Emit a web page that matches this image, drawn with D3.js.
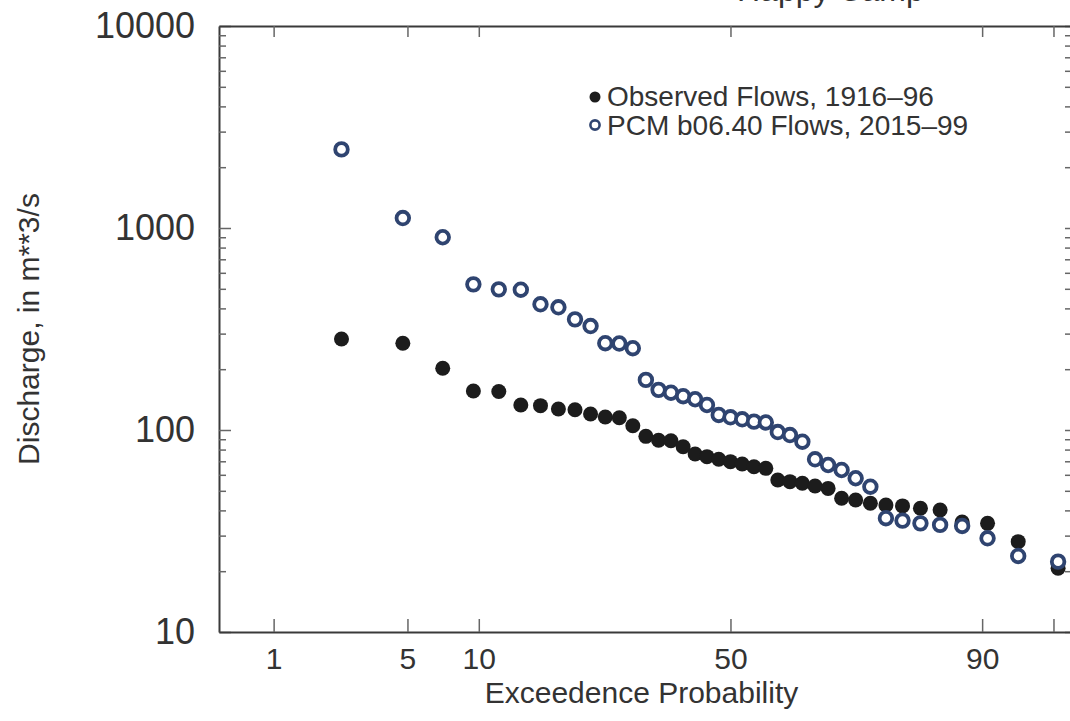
<!DOCTYPE html>
<html>
<head>
<meta charset="utf-8">
<script src="https://cdn.jsdelivr.net/npm/d3@7"></script>
<style>
  html, body { margin: 0; padding: 0; background: #fff; overflow: hidden; }
  svg { display: block; font-family: "Liberation Sans", Arial, Helvetica, sans-serif; }
</style>
</head>
<body>
<svg id="chart" width="1070" height="721"></svg>
<script>
// ranked annual peaks, rank 1 = largest; record has 41 ranks, the last one falls past the right edge
const nRecord = 41;
const observedFlows = [282, 269, 202, 156, 155, 133, 132, 127, 126, 120, 116, 115, 105, 93, 89, 88.5, 82.6, 76.1, 73.8, 71.6,
  69.7, 67.9, 65.8, 64.6, 56.6, 55.5, 54.5, 52.8, 51.4, 45.9, 45.0, 43.4, 42.5, 42.1, 41.0, 40.2, 35.0, 34.5, 28.0, 20.7];
const pcmFlows = [2450, 1120, 900, 526, 497, 495, 419, 405, 353, 327, 269, 268, 254, 177, 158, 153, 147, 142, 133, 118.7,
  115.6, 113, 110, 109, 97.7, 94.4, 87.5, 71.6, 67.1, 63.4, 57.7, 52.4, 36.6, 35.6, 34.5, 33.9, 33.5, 29.1, 23.8, 22.3];

const probTicks = [1, 5, 10, 50, 90, 95];
const probTickLabels = ['1', '5', '10', '50', '90', ''];
const probExtent = [0.46, 95.9];
const flowMajorTicks = [10, 100, 1000, 10000];
const legendLabels = ['Observed Flows, 1916\u201396', 'PCM b06.40 Flows, 2015\u201399'];

// inverse normal cdf (Acklam)
function probit(p) {
  const a = [-3.969683028665376e+01, 2.209460984245205e+02, -2.759285104469687e+02, 1.383577518672690e+02, -3.066479806614716e+01, 2.506628277459239e+00];
  const b = [-5.447609879822406e+01, 1.615858368580409e+02, -1.556989798598866e+02, 6.680131188771972e+01, -1.328068155288572e+01];
  const c = [-7.784894002430293e-03, -3.223964580411365e-01, -2.400758277161838e+00, -2.549732539343734e+00, 4.374664141464968e+00, 2.938163982698783e+00];
  const d = [7.784695709041462e-03, 3.224671290700398e-01, 2.445134137142996e+00, 3.754408661907416e+00];
  const pl = 0.02425;
  if (p < pl) {
    const q = Math.sqrt(-2 * Math.log(p));
    return (((((c[0]*q+c[1])*q+c[2])*q+c[3])*q+c[4])*q+c[5]) / ((((d[0]*q+d[1])*q+d[2])*q+d[3])*q+1);
  }
  if (p > 1 - pl) {
    const q = Math.sqrt(-2 * Math.log(1 - p));
    return -(((((c[0]*q+c[1])*q+c[2])*q+c[3])*q+c[4])*q+c[5]) / ((((d[0]*q+d[1])*q+d[2])*q+d[3])*q+1);
  }
  const q = p - 0.5, r = q * q;
  return (((((a[0]*r+a[1])*r+a[2])*r+a[3])*r+a[4])*r+a[5])*q / (((((b[0]*r+b[1])*r+b[2])*r+b[3])*r+b[4])*r+1);
}

const margin = { left: 219, right: 1072, top: 26, bottom: 632 };
const svg = d3.select('#chart');

const x = d3.scaleLinear()
  .domain(probExtent.map(p => probit(p / 100)))
  .range([margin.left, margin.right]);
const y = d3.scaleLog()
  .domain([10, 10000])
  .range([margin.bottom, margin.top]);

const px = i => x(probit((i + 1) / (nRecord + 1)));

// title, cropped by the top edge in the source figure
svg.append('text')
  .attr('x', 737).attr('y', 1)
  .attr('font-size', 32).attr('fill', '#333')
  .text('Happy Camp');

// y ticks: majors + 2..9 minors
const minorTicks = [];
[10, 100, 1000].forEach(dec => { for (let m = 2; m <= 9; m++) minorTicks.push(dec * m); });
const allYTicks = flowMajorTicks.concat(minorTicks);

const zTicks = probTicks.map(p => probit(p / 100));

const styleAxis = g => {
  g.select('.domain').attr('stroke', '#3a3a3a').attr('stroke-width', 2);
  g.selectAll('.tick line').attr('stroke', '#666').attr('stroke-width', 1.5);
  g.selectAll('.tick text').attr('fill', '#333').attr('font-family', null);
};

// left axis
svg.append('g')
  .attr('transform', `translate(${margin.left},0)`)
  .call(d3.axisLeft(y).tickValues(allYTicks).tickSizeInner(-7).tickSizeOuter(0).tickPadding(24)
    .tickFormat(d => flowMajorTicks.includes(d) ? d3.format('d')(d) : ''))
  .call(styleAxis)
  .call(g => g.selectAll('.tick').filter(d => flowMajorTicks.includes(d)).select('line').attr('x2', 12))
  .call(g => g.selectAll('.tick text').attr('font-size', 36));

// right axis (line sits just past the crop)
svg.append('g')
  .attr('transform', `translate(${margin.right},0)`)
  .call(d3.axisLeft(y).tickValues(allYTicks).tickSizeInner(7).tickSizeOuter(0).tickFormat(''))
  .call(styleAxis);

// bottom axis
svg.append('g')
  .attr('transform', `translate(0,${margin.bottom})`)
  .call(d3.axisBottom(x).tickValues(zTicks).tickSizeInner(-13).tickSizeOuter(0).tickPadding(16)
    .tickFormat((d, i) => probTickLabels[i]))
  .call(styleAxis)
  .call(g => g.selectAll('.tick text').attr('font-size', 30));

// top axis
svg.append('g')
  .attr('transform', `translate(0,${margin.top})`)
  .call(d3.axisTop(x).tickValues(zTicks).tickSizeInner(-11).tickSizeOuter(0).tickFormat(''))
  .call(styleAxis);

// axis titles
svg.append('text')
  .attr('x', (margin.left + 1070) / 2 - 3).attr('y', 703)
  .attr('text-anchor', 'middle')
  .attr('font-size', 30).attr('fill', '#333')
  .text('Exceedence Probability');

svg.append('text')
  .attr('transform', `translate(39,${(margin.top + margin.bottom) / 2}) rotate(-90)`)
  .attr('text-anchor', 'middle')
  .attr('font-size', 30).attr('fill', '#333')
  .text('Discharge, in m**3/s');

// observed (filled)
svg.append('g')
  .selectAll('circle')
  .data(observedFlows)
  .join('circle')
  .attr('cx', (d, i) => px(i))
  .attr('cy', d => y(d))
  .attr('r', 7.5)
  .attr('fill', '#1c1c1c');

// PCM (open, white-filled, drawn on top)
svg.append('g')
  .selectAll('circle')
  .data(pcmFlows)
  .join('circle')
  .attr('cx', (d, i) => px(i))
  .attr('cy', d => y(d))
  .attr('r', 6.3)
  .attr('fill', '#fff')
  .attr('stroke', '#2f4470')
  .attr('stroke-width', 3.8);

// legend
const legend = svg.append('g').attr('transform', 'translate(595,0)');
legend.append('circle').attr('cx', 0).attr('cy', 97).attr('r', 5.5).attr('fill', '#1c1c1c');
legend.append('circle').attr('cx', 0).attr('cy', 125).attr('r', 4.6)
  .attr('fill', '#fff').attr('stroke', '#2f4470').attr('stroke-width', 2.6);
legend.selectAll('text')
  .data(legendLabels)
  .join('text')
  .attr('x', 12)
  .attr('y', (d, i) => 106 + i * 28.5)
  .attr('font-size', 28)
  .attr('fill', '#333')
  .text(d => d);
</script>
</body>
</html>
